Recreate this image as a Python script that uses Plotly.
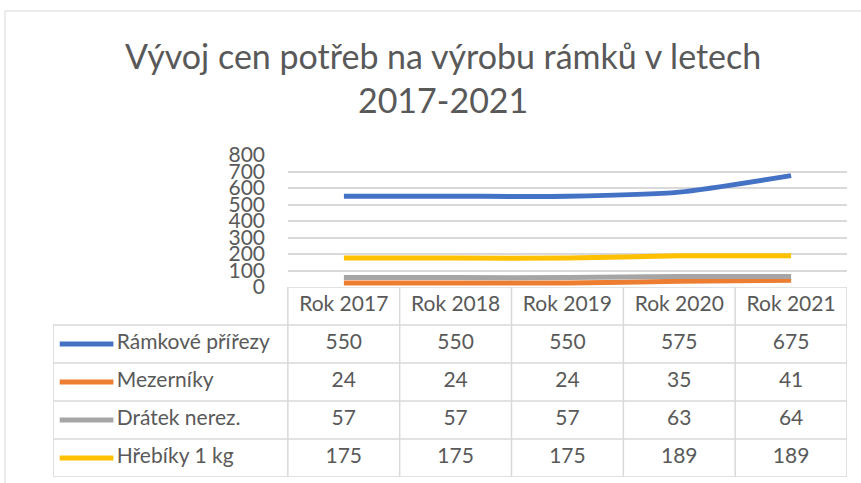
import plotly.graph_objects as go

# data (data table below the plot)
years = ["Rok 2017", "Rok 2018", "Rok 2019", "Rok 2020", "Rok 2021"]
series_names = ["Rámkové přířezy", "Mezerníky", "Drátek nerez.", "Hřebíky 1 kg"]
ramkove = [550, 550, 550, 575, 675]
mezerniky = [24, 24, 24, 35, 41]
dratek = [57, 57, 57, 63, 64]
hrebiky = [175, 175, 175, 189, 189]
y_ticks = [0, 100, 200, 300, 400, 500, 600, 700, 800]

series_values = [ramkove, mezerniky, dratek, hrebiky]
series_colors = ["#4472C4", "#ED7D31", "#A5A5A5", "#FFC000"]

TEXT = "#595959"
GRID = "#D9D9D9"
FONT = "Lato"
W, H = 861, 483


def px_x(p):
    return p / W


def px_y(p):
    return 1 - p / H


fig = go.Figure()

# ------------------------------------------------------------------
# line chart
# ------------------------------------------------------------------
for name, vals, col in zip(series_names, series_values, series_colors):
    fig.add_trace(go.Scatter(
        x=years, y=vals, name=name, mode="lines",
        line=dict(color=col, width=5, shape="spline", smoothing=0.6),
        xaxis="x", yaxis="y", showlegend=False,
    ))

# ------------------------------------------------------------------
# data table (drawn on a second pair of axes)
# ------------------------------------------------------------------
col_idx = list(range(len(years)))
fig.add_trace(go.Scatter(
    x=col_idx, y=[0] * len(years), text=years, mode="text",
    textfont=dict(family=FONT, size=21, color=TEXT),
    xaxis="x2", yaxis="y2", showlegend=False, hoverinfo="skip",
))
for r, (name, vals, col) in enumerate(zip(series_names, series_values, series_colors), start=1):
    fig.add_trace(go.Scatter(
        x=col_idx, y=[r] * len(vals), text=[str(v) for v in vals], mode="text",
        textfont=dict(family=FONT, size=21, color=TEXT),
        xaxis="x2", yaxis="y2", showlegend=False, hoverinfo="skip",
    ))
    # legend key line + label
    fig.add_trace(go.Scatter(
        x=[-2.54, -2.06], y=[r, r], mode="lines",
        line=dict(color=col, width=5),
        xaxis="x2", yaxis="y2", showlegend=False, hoverinfo="skip",
    ))
    fig.add_trace(go.Scatter(
        x=[-2.03], y=[r], text=[name], mode="text", textposition="middle right",
        textfont=dict(family=FONT, size=21, color=TEXT),
        xaxis="x2", yaxis="y2", showlegend=False, hoverinfo="skip",
    ))

shapes = []
n = len(years)
# horizontal table borders
shapes.append(dict(type="line", xref="x2", yref="y2", x0=-0.5, x1=n - 0.5, y0=-0.5, y1=-0.5,
                   line=dict(color=GRID, width=1.5)))
for k in range(len(series_names) + 1):
    yy = k + 0.5
    shapes.append(dict(type="line", xref="x2", yref="y2", x0=-2.6, x1=n - 0.5, y0=yy, y1=yy,
                       line=dict(color=GRID, width=1.5)))
# vertical table borders
shapes.append(dict(type="line", xref="x2", yref="y2", x0=-2.6, x1=-2.6, y0=0.5,
                   y1=len(series_names) + 0.5, line=dict(color=GRID, width=1.5)))
for k in range(n + 1):
    xx = k - 0.5
    shapes.append(dict(type="line", xref="x2", yref="y2", x0=xx, x1=xx, y0=-0.5,
                       y1=len(series_names) + 0.5, line=dict(color=GRID, width=1.5)))
# chart area border
shapes.append(dict(type="line", xref="paper", yref="paper", x0=px_x(5), x1=1, y0=px_y(11), y1=px_y(11),
                   line=dict(color=GRID, width=1)))
shapes.append(dict(type="line", xref="paper", yref="paper", x0=px_x(5), x1=px_x(5), y0=0, y1=px_y(11),
                   line=dict(color=GRID, width=1)))

fig.update_layout(
    width=W, height=H,
    margin=dict(l=0, r=0, t=0, b=0, autoexpand=False),
    paper_bgcolor="white", plot_bgcolor="white",
    font=dict(family=FONT, color=TEXT),
    shapes=shapes,
    annotations=[dict(
        text="Vývoj cen potřeb na výrobu rámků v letech<br>2017-2021",
        xref="paper", yref="paper", x=px_x(443), y=px_y(77),
        xanchor="center", yanchor="middle", showarrow=False,
        font=dict(family=FONT, size=34, color=TEXT),
    )],
    xaxis=dict(
        domain=[px_x(288), px_x(847)], range=[-0.5, n - 0.5],
        showticklabels=False, showgrid=False, zeroline=False, fixedrange=True,
    ),
    yaxis=dict(
        domain=[px_y(287), px_y(155)], range=[0, 800],
        tickvals=y_ticks, ticklabelstandoff=22,
        tickfont=dict(family=FONT, size=21, color=TEXT),
        showgrid=True, gridcolor=GRID, gridwidth=1.5, zeroline=False,
    ),
    xaxis2=dict(
        domain=[px_x(53), px_x(847)], range=[-2.6, n - 0.5], anchor="y2",
        visible=False, fixedrange=True,
    ),
    yaxis2=dict(
        domain=[px_y(477), px_y(287)], range=[len(series_names) + 0.5, -0.5], anchor="x2",
        visible=False, fixedrange=True,
    ),
)

# remove the default page margin so the figure sits at the window origin
fig.write_html(
    "out.html",
    config={"displayModeBar": False},
    post_script="document.body.style.margin='0';document.body.style.overflow='hidden';",
)
